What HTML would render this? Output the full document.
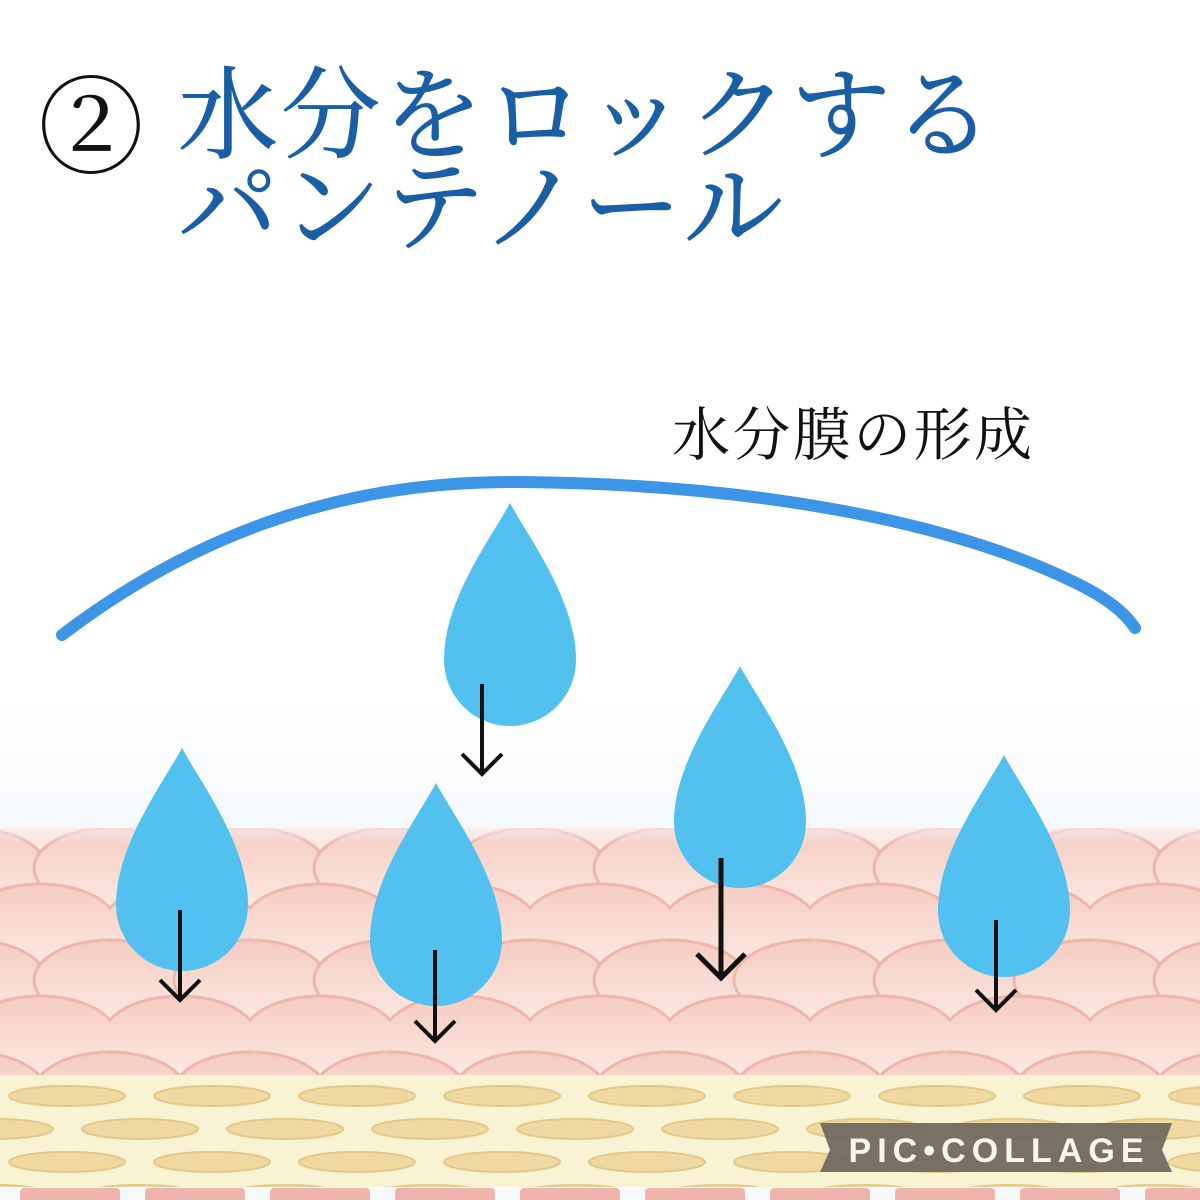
<!DOCTYPE html>
<html><head><meta charset="utf-8"><style>
html,body{margin:0;padding:0;background:#fff;}
svg{display:block}
</style></head><body>
<svg width="1200" height="1200" viewBox="0 0 1200 1200" xmlns="http://www.w3.org/2000/svg">
<defs>
<linearGradient id="bg" x1="0" y1="0" x2="0" y2="1">
<stop offset="0" stop-color="#ffffff"/><stop offset="0.58" stop-color="#ffffff"/><stop offset="0.69" stop-color="#f6f9fc"/><stop offset="1" stop-color="#f6f9fc"/>
</linearGradient>
<linearGradient id="sc" x1="0" y1="0" x2="0" y2="1">
<stop offset="0" stop-color="#f5cbc1"/><stop offset="1" stop-color="#fce9e2"/>
</linearGradient>
<linearGradient id="fade" x1="0" y1="0" x2="0" y2="1">
<stop offset="0" stop-color="#f6f9fc" stop-opacity="1"/><stop offset="1" stop-color="#f6f9fc" stop-opacity="0"/>
</linearGradient>
<pattern id="scales" x="-30" y="868" width="140" height="112" patternUnits="userSpaceOnUse">
<rect width="140" height="112" fill="#f6d2c9"/>
<ellipse cx="0" cy="0" rx="76" ry="40" fill="url(#sc)" stroke="#efb6ab" stroke-width="3"/>
<ellipse cx="140" cy="0" rx="76" ry="40" fill="url(#sc)" stroke="#efb6ab" stroke-width="3"/>
<ellipse cx="70" cy="56" rx="76" ry="40" fill="url(#sc)" stroke="#efb6ab" stroke-width="3"/>
<ellipse cx="0" cy="112" rx="76" ry="40" fill="url(#sc)" stroke="#efb6ab" stroke-width="3"/>
<ellipse cx="140" cy="112" rx="76" ry="40" fill="url(#sc)" stroke="#efb6ab" stroke-width="3"/>
</pattern>
<pattern id="cells" x="-5" y="1080" width="145" height="66" patternUnits="userSpaceOnUse">
<rect width="145" height="66" fill="#f8f3d2"/>
<ellipse cx="72" cy="16" rx="58" ry="10" fill="#efd9a0" stroke="#e2c98a" stroke-width="2"/>
<ellipse cx="0" cy="49" rx="58" ry="10" fill="#efd9a0" stroke="#e2c98a" stroke-width="2"/>
<ellipse cx="145" cy="49" rx="58" ry="10" fill="#efd9a0" stroke="#e2c98a" stroke-width="2"/>
</pattern>
</defs>
<rect width="1200" height="1200" fill="url(#bg)"/>
<rect x="0" y="828" width="1200" height="252" fill="url(#scales)"/>
<rect x="0" y="815" width="1200" height="30" fill="url(#fade)"/>
<rect x="0" y="1075" width="1200" height="112" fill="url(#cells)"/>
<g fill="#f0b4ae">
<rect x="20" y="1188" width="100" height="14" rx="4"/><rect x="145" y="1188" width="100" height="14" rx="4"/><rect x="270" y="1188" width="100" height="14" rx="4"/><rect x="395" y="1188" width="100" height="14" rx="4"/><rect x="520" y="1188" width="100" height="14" rx="4"/><rect x="645" y="1188" width="100" height="14" rx="4"/><rect x="770" y="1188" width="100" height="14" rx="4"/><rect x="895" y="1188" width="100" height="14" rx="4"/><rect x="1020" y="1188" width="100" height="14" rx="4"/><rect x="1145" y="1188" width="100" height="14" rx="4"/>
</g>

<text x="38" y="165" font-family="'Liberation Serif','Noto Serif CJK JP',serif" font-size="106" fill="#111">②</text>
<text x="178" y="150" font-family="'Liberation Serif','Noto Serif CJK JP',serif" font-size="100" fill="#1a5fa6" stroke="#1a5fa6" stroke-width="1" textLength="815">水分をロックする</text>
<text x="178" y="242" font-family="'Liberation Serif','Noto Serif CJK JP',serif" font-size="100" fill="#1a5fa6" stroke="#1a5fa6" stroke-width="1" textLength="605">パンテノール</text>
<text x="672" y="455" font-family="'Liberation Serif','Noto Serif CJK JP',serif" font-size="58" fill="#111" textLength="360">水分膜の形成</text>

<path d="M62 635 C200 530 350 480 520 482 C750 484 950 520 1080 585 Q1120 605 1135 628" fill="none" stroke="#3d95e8" stroke-width="12" stroke-linecap="round"/>

<g fill="#53c1ef">
<path d="M510 503 C530 540 576 600 576 660 A66 66 0 0 1 444 660 C444 600 490 540 510 503Z"/>
<path d="M182 748 C202 785 248 845 248 905 A66 66 0 0 1 116 905 C116 845 162 785 182 748Z"/>
<path d="M436 783 C456 820 502 880 502 940 A66 66 0 0 1 370 940 C370 880 416 820 436 783Z"/>
<path d="M740 666 C760 703 806 763 806 822 A66 66 0 0 1 674 822 C674 763 720 703 740 666Z"/>
<path d="M1004 755 C1024 792 1070 852 1070 911 A66 66 0 0 1 938 911 C938 852 984 792 1004 755Z"/>
</g>
<g fill="none" stroke="#111" stroke-width="4">
<path d="M482 684 V774 M462 754 L482 774 L502 754"/>
<path d="M180 910 V1000 M160 980 L180 1000 L200 980"/>
<path d="M435 950 V1041 M415 1021 L435 1041 L455 1021"/>
<path d="M721 858 V978 M697 954 L721 978 L745 954" stroke-width="5"/>
<path d="M996 920 V1010 M976 990 L996 1010 L1016 990"/>
</g>

<path d="M820 1123 L1172 1123 L1162 1150 L1172 1172 L820 1172 L830 1150 Z" fill="#6e675d" opacity="0.92"/>
<text x="996" y="1162" text-anchor="middle" font-family="'Liberation Sans',sans-serif" font-size="34" font-weight="bold" fill="#fbf6e8" textLength="295">PIC•COLLAGE</text>
</svg>
</body></html>
